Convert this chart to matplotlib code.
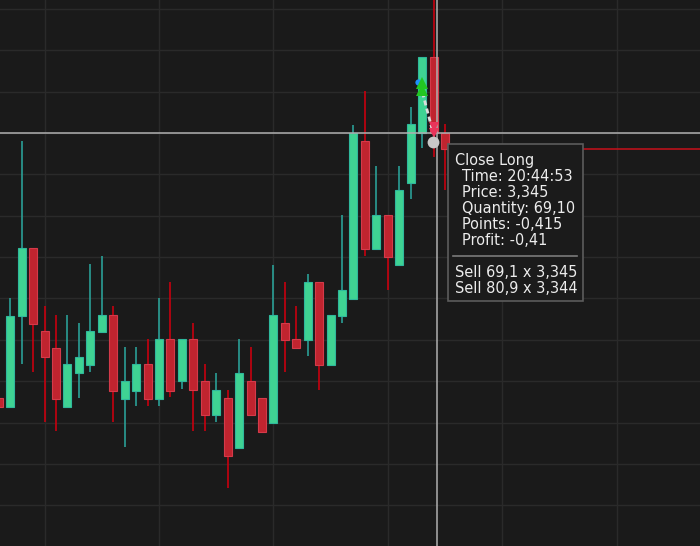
import matplotlib
matplotlib.use("Agg")
import matplotlib.pyplot as plt
from matplotlib import font_manager as fm
from matplotlib.patches import Rectangle
from matplotlib.lines import Line2D

# ---------------- data (prices) ----------------
opens = [3.2859, 3.2838, 3.3058, 3.3221, 3.3021, 3.2981, 3.2838, 3.2919, 3.2938, 3.3019,
         3.3059, 3.2858, 3.2877, 3.2941, 3.2858, 3.3001, 3.2900, 3.3001, 3.2901, 3.2819,
         3.2859, 3.2738, 3.2901, 3.2859, 3.2800, 3.3040, 3.3001, 3.3000, 3.3140, 3.2938,
         3.3058, 3.3099, 3.3481, 3.3219, 3.3301, 3.3180, 3.3380, 3.3501, 3.3683, 3.3501]
highs = [3.2859, 3.3100, 3.3481, 3.3221, 3.3082, 3.3059, 3.3059, 3.3040, 3.3183, 3.3202,
         3.3082, 3.2982, 3.2982, 3.3001, 3.3100, 3.3139, 3.3001, 3.3040, 3.2941, 3.2920,
         3.2879, 3.3001, 3.2982, 3.2859, 3.3182, 3.3139, 3.3082, 3.3159, 3.3140, 3.3059,
         3.3302, 3.3520, 3.3601, 3.3420, 3.3301, 3.3420, 3.3562, 3.3683, 3.3894, 3.3522]
lows = [3.2838, 3.2838, 3.2941, 3.2921, 3.2802, 3.2780, 3.2838, 3.2860, 3.2921, 3.3019,
        3.2802, 3.2741, 3.2841, 3.2841, 3.2841, 3.2861, 3.2880, 3.2779, 3.2779, 3.2801,
        3.2641, 3.2738, 3.2819, 3.2777, 3.2800, 3.2921, 3.2980, 3.2961, 3.2879, 3.2938,
        3.3040, 3.3099, 3.3203, 3.3219, 3.3120, 3.3180, 3.3340, 3.3463, 3.3442, 3.3362]
closes = [3.2838, 3.3058, 3.3221, 3.3038, 3.2958, 3.2858, 3.2941, 3.2959, 3.3021, 3.3059,
          3.2877, 3.2901, 3.2941, 3.2858, 3.3001, 3.2877, 3.3001, 3.2878, 3.2819, 3.2879,
          3.2719, 3.2920, 3.2819, 3.2777, 3.3059, 3.3000, 3.2980, 3.3140, 3.2938, 3.3059,
          3.3120, 3.3501, 3.3219, 3.3301, 3.3199, 3.3362, 3.3521, 3.3683, 3.3501, 3.3461]

entry_bar = 37
entry_prices = [3.3620, 3.3604]
entry_dot_price = 3.3624
exit_bar = 38
exit_prices = [3.3515, 3.3500]
exit_fill_price = 3.3479
crosshair_x = 38.34
crosshair_price = 3.3501

tooltip_title = "Close Long"
tooltip_lines = ["Time: 20:44:53", "Price: 3,345", "Quantity: 69,10",
                 "Points: -0,415", "Profit: -0,41"]
tooltip_fills = ["Sell 69,1 x 3,345", "Sell 80,9 x 3,344"]

grid_x = [4, 14, 24, 34, 44, 54]
grid_y = [3.26, 3.27, 3.28, 3.29, 3.30, 3.31, 3.32, 3.33, 3.34, 3.35, 3.36, 3.37, 3.38]

# ---------------- style ----------------
BG = "#1a1a1a"
GRID = "#2a2a2a"
UP_FILL, UP_EDGE, UP_WICK = "#3fd393", "#2fb89c", "#2a9f96"
DN_FILL, DN_EDGE, DN_WICK = "#c0242f", "#d43a4a", "#c8000e"
CROSS = "#b0b0b0"
TXT = "#ececec"

names = {f.name for f in fm.fontManager.ttflist}
if "Liberation Sans Narrow" in names:
    FAM = ["Liberation Sans Narrow", "DejaVu Sans"]
    STRETCH = "normal"
else:
    FAM = ["DejaVu Sans"]
    STRETCH = "condensed"

W, H = 700, 546
fig = plt.figure(figsize=(W / 100, H / 100), dpi=100, facecolor=BG)
ax = fig.add_axes([0, 0, 1, 1])
ax.set_facecolor(BG)
ax.set_xlim(0.10, 61.29)
ax.set_ylim(3.25014, 3.38216)
for s in ax.spines.values():
    s.set_visible(False)
ax.set_xticks([])
ax.set_yticks([])

for gx in grid_x:
    ax.axvline(gx, color=GRID, lw=1.0, zorder=0)
for gy in grid_y:
    ax.axhline(gy, color=GRID, lw=1.0, zorder=0)

n = len(opens)
xs = list(range(n))
up = [c >= o for o, c in zip(opens, closes)]

# last close line
ax.hlines(closes[-1], xs[-1], 62, color="#c8101a", lw=1.1, zorder=1)

ax.vlines(xs, lows, highs, colors=[UP_WICK if u else DN_WICK for u in up],
          lw=1.2, zorder=2)
ax.bar(xs, [abs(c - o) for o, c in zip(opens, closes)],
       bottom=[min(o, c) for o, c in zip(opens, closes)], width=0.7,
       color=[UP_FILL if u else DN_FILL for u in up],
       edgecolor=[UP_EDGE if u else DN_EDGE for u in up], linewidth=0.8, zorder=3)

# crosshair
ax.axvline(crosshair_x, color=CROSS, lw=1.1, zorder=4)
ax.axhline(crosshair_price, color=CROSS, lw=1.1, zorder=4)

# trade markers
ax.plot([entry_bar + 0.03, exit_bar - 0.05], [entry_prices[1] - 0.0006, exit_prices[1] + 0.0001],
        color="#dcdcdc", lw=2.0, ls=(0, (1.8, 1.2)), zorder=5)
ax.plot(entry_bar - 0.33, entry_dot_price, "o", color="#1e90ff", ms=4.5, mew=0, zorder=6)
ax.plot([entry_bar] * len(entry_prices), entry_prices, "^", color="#22c622", ms=9, mew=0, zorder=6)
ax.plot([exit_bar] * len(exit_prices), exit_prices, "v", color="#e8345a", ms=7.5, mew=0, zorder=6)
ax.plot(exit_bar - 0.02, exit_fill_price, "o", color="#c8c8c8", ms=8.5, mew=0, zorder=7)

# tooltip (pixel layout -> axes fraction)
def P(x, y):
    return x / W, 1 - y / H

x0, y0 = P(448.3, 300.7)
x1, y1 = P(582.7, 144)
ax.add_patch(Rectangle((x0, y0), x1 - x0, y1 - y0, transform=ax.transAxes,
                       facecolor="#1b1b1b", edgecolor="#5c5c5c", lw=1.2, zorder=10))
a, b = P(452.7, 256)
c, _ = P(576.7, 256)
ax.add_line(Line2D([a, c], [b, b], transform=ax.transAxes, color="#7a7a7a", lw=1.2, zorder=11))

FS = 11.6
tx, ty = P(455, 165)
ax.text(tx, ty, tooltip_title, transform=ax.transAxes, color=TXT, fontsize=FS,
        family=FAM, stretch=STRETCH, va="baseline", ha="left", zorder=12)
for k, line in enumerate(tooltip_lines):
    tx, ty = P(461.7, 181 + 16 * k)
    ax.text(tx, ty, line, transform=ax.transAxes, color=TXT, fontsize=FS,
            family=FAM, stretch=STRETCH, va="baseline", ha="left", zorder=12)
for k, line in enumerate(tooltip_fills):
    tx, ty = P(455, 277.3 + 15.5 * k)
    ax.text(tx, ty, line, transform=ax.transAxes, color=TXT, fontsize=FS,
            family=FAM, stretch=STRETCH, va="baseline", ha="left", zorder=12)

fig.savefig("out.png", dpi=100, facecolor=BG)
